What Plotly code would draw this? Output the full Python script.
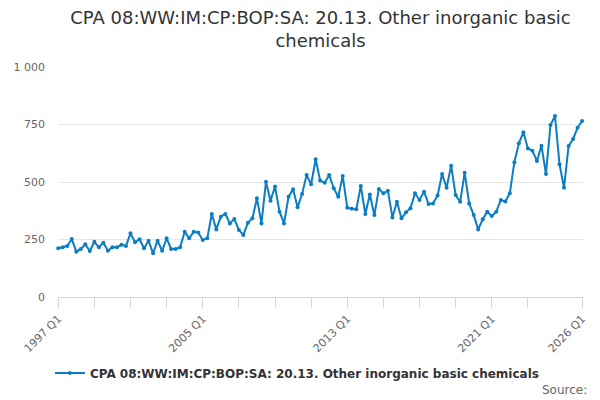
import plotly.graph_objects as go

SERIES_NAME = "CPA 08:WW:IM:CP:BOP:SA: 20.13. Other inorganic basic chemicals"

# quarterly categories, 1997 Q1 .. 2026 Q1
quarters = [f"{y} Q{q}" for y in range(1997, 2027) for q in range(1, 5)][:117]

values = [
    212, 216, 222, 252, 197, 209, 229, 200,   # 1997-1998
    240, 216, 236, 201, 216, 216, 227, 222,   # 1999-2000
    277, 238, 251, 212, 245, 190, 245, 201,   # 2001-2002
    255, 209, 209, 216, 284, 255, 284, 280,   # 2003-2004
    248, 255, 361, 294, 349, 361, 320, 339,   # 2005-2006
    291, 270, 323, 342, 429, 320, 501, 419,   # 2007-2008
    480, 371, 320, 436, 468, 390, 448, 530,   # 2009-2010
    490, 599, 506, 497, 530, 473, 436, 526,   # 2011-2012
    388, 384, 381, 483, 361, 446, 356, 470,   # 2013-2014
    451, 462, 346, 414, 342, 368, 386, 451,   # 2015-2016
    422, 458, 404, 407, 441, 535, 475, 571,   # 2017-2018
    443, 414, 540, 407, 356, 294, 338, 371,   # 2019-2020
    352, 371, 422, 415, 451, 586, 668, 716,   # 2021-2022
    646, 636, 591, 658, 535, 748, 787, 577,   # 2023-2024
    475, 656, 687, 736, 765,                  # 2025-2026 Q1
]

# tick marks every two years, labels every eight, plus the last quarter
tick_idx = list(range(0, 105, 8)) + [116]
label_idx = [0, 32, 64, 96, 116]
tick_vals = [quarters[i] for i in tick_idx]
tick_text = [quarters[i] if i in label_idx else "" for i in tick_idx]

y_vals = [0, 250, 500, 750, 1000]
y_text = ["0", "250", "500", "750", "1 000"]

FONT = "DejaVu Sans"
BLUE = "#0b7dc2"

fig = go.Figure()
fig.add_trace(go.Scatter(
    x=quarters, y=values, mode="lines+markers", name=SERIES_NAME,
    line=dict(color=BLUE, width=2), marker=dict(size=4, color=BLUE),
    cliponaxis=False,
))
fig.update_layout(
    width=600, height=400,
    paper_bgcolor="white", plot_bgcolor="white",
    font=dict(family=FONT, color="#333333", size=12),
    title=dict(text="CPA 08:WW:IM:CP:BOP:SA: 20.13. Other inorganic basic<br>chemicals",
               font=dict(size=18, color="#333333", family=FONT),
               x=0.5, xanchor="center", xref="paper",
               y=0.94, yanchor="top", yref="container"),
    margin=dict(l=58, r=17, t=67, b=103),
    showlegend=True,
    legend=dict(orientation="h", x=0.456, xanchor="center", y=-0.33, yanchor="middle",
                font=dict(size=12, color="#333333", family=FONT, weight="bold")),
    xaxis=dict(type="category", range=[-0.05, 116.2],
               tickmode="array", tickvals=tick_vals, ticktext=tick_text,
               tickangle=-45, tickfont=dict(size=11, color="#666666"),
               ticks="outside", ticklen=10, tickcolor="#ccd6eb",
               showline=True, linecolor="#ccd6eb", linewidth=1,
               showgrid=False, zeroline=False),
    yaxis=dict(range=[0, 1000], tickmode="array", tickvals=y_vals, ticktext=y_text,
               tickfont=dict(size=11, color="#666666"), ticklabelstandoff=12,
               gridcolor="#e6e6e6", gridwidth=1, showline=False, zeroline=False),
    annotations=[dict(text="Source:", xref="paper", yref="paper", x=1.012, y=-0.405,
                      xanchor="right", yanchor="middle", showarrow=False,
                      font=dict(size=12, color="#666666"))],
)

# the page's default body margin would push the 600x400 figure off the window
fig.write_html("out.html", config=dict(displayModeBar=False),
               post_script="document.body.style.margin = '0';")
